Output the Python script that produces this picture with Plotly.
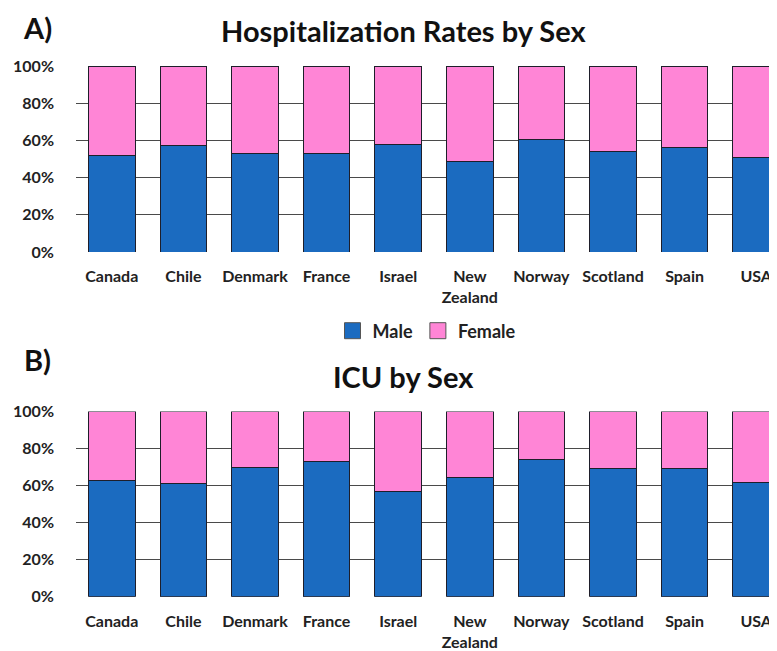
import plotly.graph_objects as go

# values (percent of cases)
countries = ["Canada", "Chile", "Denmark", "France", "Israel", "New<br>Zealand",
             "Norway", "Scotland", "Spain", "USA"]
hosp_male = [52, 57, 53, 53, 58, 48.5, 60.5, 54, 56, 51]
hosp_female = [48, 43, 47, 47, 42, 51.5, 39.5, 46, 44, 49]
icu_male = [62.5, 61, 70, 73, 57, 64.5, 74, 69, 69, 61.5]
icu_female = [37.5, 39, 30, 27, 43, 35.5, 26, 31, 31, 38.5]
y_ticks = [0, 20, 40, 60, 80, 100]
y_labels = ["0%", "20%", "40%", "60%", "80%", "100%"]

# the page body adds an 8px margin, so the figure is drawn 8px in from the corner
OFF = 8
W, H = 777 - OFF, 651 - OFF
L = 76 - OFF
CAT_W = 71.6
BLUE = "#1B6BC0"
PINK = "#FF85D6"
EDGE = "#1e1e2a"
FONT = "Lato"


def px(x):
    # page pixel x -> paper x (plot area spans L..W)
    return (x - OFF - L) / (W - L)


def py(y):
    return 1 - (y - OFF) / H


fig = go.Figure()

for male, female, ax in [(hosp_male, hosp_female, ""), (icu_male, icu_female, "2")]:
    fig.add_trace(go.Bar(x=countries, y=male, name="Male", marker_color=BLUE,
                         marker_line=dict(color=EDGE, width=1), showlegend=False,
                         xaxis="x" + ax, yaxis="y" + ax))
    fig.add_trace(go.Bar(x=countries, y=female, name="Female", marker_color=PINK,
                         marker_line=dict(color=EDGE, width=1), showlegend=False,
                         xaxis="x" + ax, yaxis="y" + ax))

# legend entries (bigger squares than plotly's bar swatch)
for name, col in [("Male", BLUE), ("Female", PINK)]:
    fig.add_trace(go.Scatter(x=[None], y=[None], mode="markers", name=name,
                             marker=dict(symbol="square", size=18, color=col,
                                         line=dict(color="#555", width=1))))

xa = dict(type="category", range=[-0.5, -0.5 + (W - L) / CAT_W], showgrid=False,
          showline=False, ticks="", automargin=False, ticklabelstandoff=13,
          tickfont=dict(family=FONT, size=16, color="#222", weight="bold"))
ya = dict(range=[0, 100], tickvals=y_ticks, ticktext=y_labels, showgrid=True,
          gridcolor="#4a4a4a", gridwidth=1, zeroline=False, showline=False,
          automargin=False, ticklabelstandoff=21,
          tickfont=dict(family=FONT, size=16, color="#222", weight="bold"))


def label(text, x, y):
    return dict(text="<b>%s</b>" % text, x=px(x), y=py(y), xref="paper", yref="paper",
                xanchor="center", yanchor="middle", showarrow=False,
                font=dict(family=FONT, size=29, color="#111"))


fig.update_layout(
    width=W, height=H,
    margin=dict(l=L, r=0, t=0, b=0),
    paper_bgcolor="white", plot_bgcolor="white",
    barmode="stack", bargap=0.35,
    font=dict(family=FONT, color="#222"),
    xaxis=dict(xa, anchor="y"),
    yaxis=dict(ya, domain=[py(252), py(66)], anchor="x"),
    xaxis2=dict(xa, anchor="y2"),
    yaxis2=dict(ya, domain=[py(596.7), py(411.5)], anchor="x2"),
    legend=dict(orientation="h", x=px(427), y=py(331), xanchor="center", yanchor="middle",
                traceorder="normal",
                font=dict(family=FONT, size=18, color="#222", weight="bold"),
                itemsizing="trace"),
    annotations=[
        label("A)", 37, 28),
        label("Hospitalization Rates by Sex", 403, 30),
        label("B)", 37, 359),
        label("ICU by Sex", 403, 376),
    ],
)

fig.write_html("out.html")
